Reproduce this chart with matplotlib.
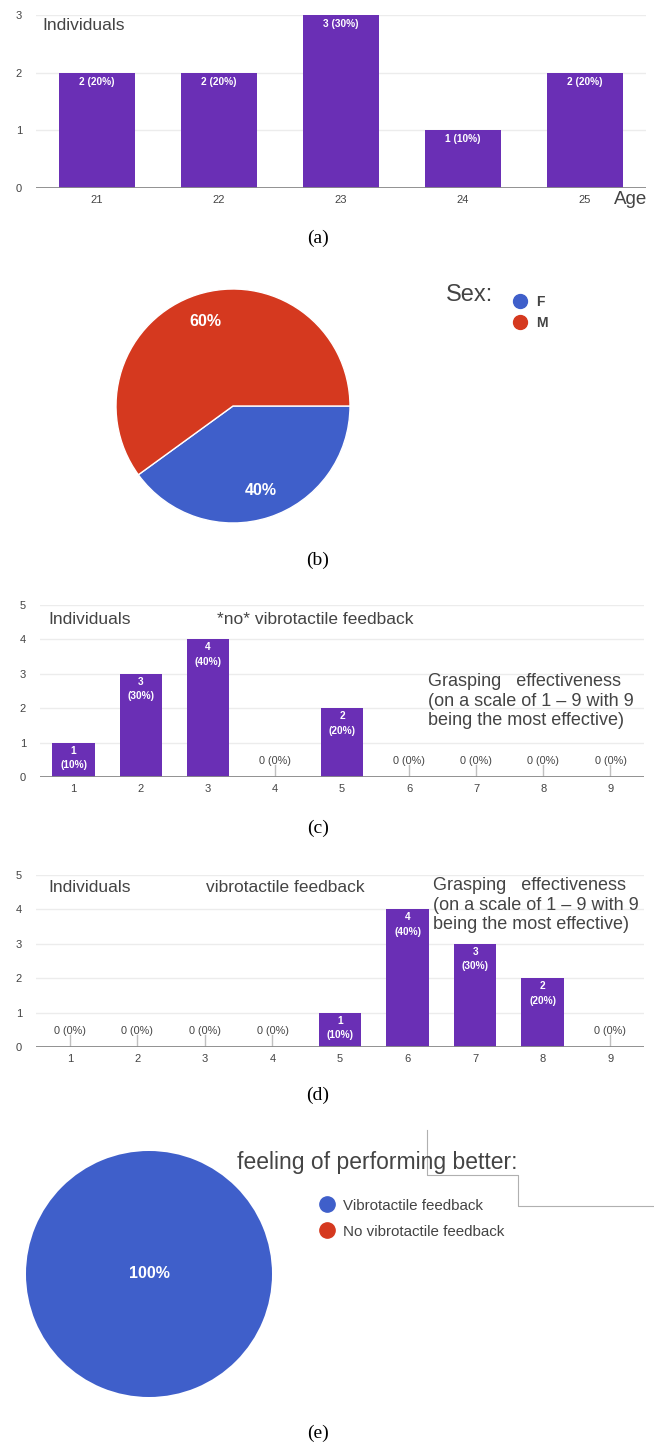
import numpy as np
import matplotlib.pyplot as plt
from matplotlib.lines import Line2D

plt.rcParams['font.family'] = ['Liberation Sans', 'DejaVu Sans']

# data
age_labels = ['21', '22', '23', '24', '25']
age_counts = [2, 2, 3, 1, 2]
sex_labels = ['F', 'M']
sex_pct = [40, 60]
scale_labels = ['1', '2', '3', '4', '5', '6', '7', '8', '9']
no_vib_counts = [1, 3, 4, 0, 2, 0, 0, 0, 0]
vib_counts = [0, 0, 0, 0, 1, 4, 3, 2, 0]
better_labels = ['Vibrotactile feedback', 'No vibrotactile feedback']
better_pct = [100, 0]

PURPLE = '#6a2fb5'
BLUE = '#3f5fca'
RED = '#d5391f'
TXT = '#444444'

W, H = 654, 1447
fig = plt.figure(figsize=(W / 100, H / 100), dpi=100)


def px_axes(l, t, r, b):
    return fig.add_axes([l / W, 1 - b / H, (r - l) / W, (b - t) / H])


def ftext(x, y, s, **kw):
    return fig.text(x / W, 1 - y / H, s, **kw)


def bar_panel(ax, labels, counts, ymax, width, two_line, top_off):
    x = np.arange(len(counts))
    ax.bar(x, counts, width=width, color=PURPLE, zorder=3)
    total = sum(counts)
    for xi, c in zip(x, counts):
        pct = round(100 * c / total)
        if c > 0:
            s = f'{c}\n({pct}%)' if two_line else f'{c} ({pct}%)'
            ax.annotate(s, (xi, c), xytext=(0, top_off), textcoords='offset pixels',
                        ha='center', va='top', color='white', fontsize=7.3,
                        fontweight='bold', linespacing=1.55, zorder=5)
        else:
            ax.plot([xi, xi], [0, 0.35], color='#c0c0c0', lw=1, zorder=2)
            ax.annotate(f'{c} ({pct}%)', (xi, 0), xytext=(0, 11), textcoords='offset pixels',
                        ha='center', va='bottom', color=TXT, fontsize=7.8)
    ax.set_xlim(-0.5, len(counts) - 0.5)
    ax.set_ylim(0, ymax)
    ax.set_yticks(range(ymax + 1))
    ax.set_xticks(x, labels)
    ax.yaxis.grid(True, color='#ececec', lw=1)
    ax.set_axisbelow(True)
    ax.axhline(0, color='#8a8a8a', lw=1.3, zorder=4)
    for sp in ax.spines.values():
        sp.set_visible(False)
    ax.tick_params(length=0, labelsize=8, colors=TXT)
    ax.tick_params(axis='y', pad=10)
    ax.tick_params(axis='x', pad=5)


def caption(y, s):
    ftext(318, y, s, family='Liberation Serif', fontsize=14, ha='center', va='center')


GRASP = 'Grasping   effectiveness\n(on a scale of 1 \u2013 9 with 9\nbeing the most effective)'

# (a) age
ax_a = px_axes(36, 15, 646, 188)
bar_panel(ax_a, age_labels, age_counts, 3, 0.62, False, -4)
ftext(42, 25, 'Individuals', fontsize=12.5, color=TXT, va='center')
ftext(647, 200, 'Age', fontsize=13.5, color=TXT, va='center', ha='right')
caption(238, '(a)')

# (b) sex
ax_b = px_axes(116, 289, 350, 523)
ax_b.pie(sex_pct, colors=[BLUE, RED], startangle=0, counterclock=False,
         autopct='%d%%', pctdistance=0.76,
         wedgeprops=dict(edgecolor='white', linewidth=1),
         textprops=dict(color='white', fontsize=11.5, fontweight='bold'))
ax_b.set_xlim(-1, 1)
ax_b.set_ylim(-1, 1)
ftext(446, 295, 'Sex:', fontsize=17, color=TXT, va='center')
handles_b = [Line2D([], [], marker='o', ls='', color=c, ms=10) for c in [BLUE, RED]]
ax_b.legend(handles_b, sex_labels, loc='upper left', bbox_to_anchor=(494 / W, 1 - 282 / H),
            bbox_transform=fig.transFigure, frameon=False, handletextpad=0.1,
            labelspacing=0.55, labelcolor=TXT, prop=dict(weight='bold', size=10))
caption(560, '(b)')

# (c) no vibrotactile feedback
ax_c = px_axes(40, 605, 644, 777)
bar_panel(ax_c, scale_labels, no_vib_counts, 5, 0.63, True, -3)
ftext(48, 619, 'Individuals', fontsize=12.5, color=TXT, va='center')
ftext(217, 619, '*no* vibrotactile feedback', fontsize=12.5, color=TXT, va='center')
ftext(428, 673, GRASP, fontsize=13, color=TXT, va='top', linespacing=1.2)
caption(828, '(c)')

# (d) vibrotactile feedback
ax_d = px_axes(36, 875, 644, 1047)
bar_panel(ax_d, scale_labels, vib_counts, 5, 0.63, True, -3)
ftext(48, 887, 'Individuals', fontsize=12.5, color=TXT, va='center')
ftext(206, 887, 'vibrotactile feedback', fontsize=12.5, color=TXT, va='center')
ftext(433, 877, GRASP, fontsize=13, color=TXT, va='top', linespacing=1.2)
caption(1095, '(d)')

# (e) feeling of performing better
ax_e = px_axes(26, 1151, 272, 1397)
ax_e.pie(better_pct, colors=[BLUE, RED], startangle=90, counterclock=False,
         autopct=lambda p: f'{p:.0f}%' if p > 0 else '', pctdistance=0,
         wedgeprops=dict(linewidth=0),
         textprops=dict(color='white', fontsize=11.5, fontweight='bold'))
ax_e.set_xlim(-1, 1)
ax_e.set_ylim(-1, 1)
ftext(237, 1163, 'feeling of performing better:', fontsize=16.5, color=TXT, va='center')
handles_e = [Line2D([], [], marker='o', ls='', color=c, ms=11) for c in [BLUE, RED]]
ax_e.legend(handles_e, better_labels, loc='upper left', bbox_to_anchor=(298 / W, 1 - 1185 / H),
            bbox_transform=fig.transFigure, frameon=False, fontsize=10.9, handletextpad=0.1,
            labelspacing=0.8, labelcolor=TXT)
# screenshot edge lines
edge_x = [427, 427, 518, 518, 654]
edge_y = [1130, 1175, 1175, 1206, 1206]
fig.add_artist(Line2D([v / W for v in edge_x], [1 - v / H for v in edge_y],
                      transform=fig.transFigure, color='#b0b0b0', lw=0.8))
caption(1433, '(e)')

fig.savefig('out.png', dpi=100)
